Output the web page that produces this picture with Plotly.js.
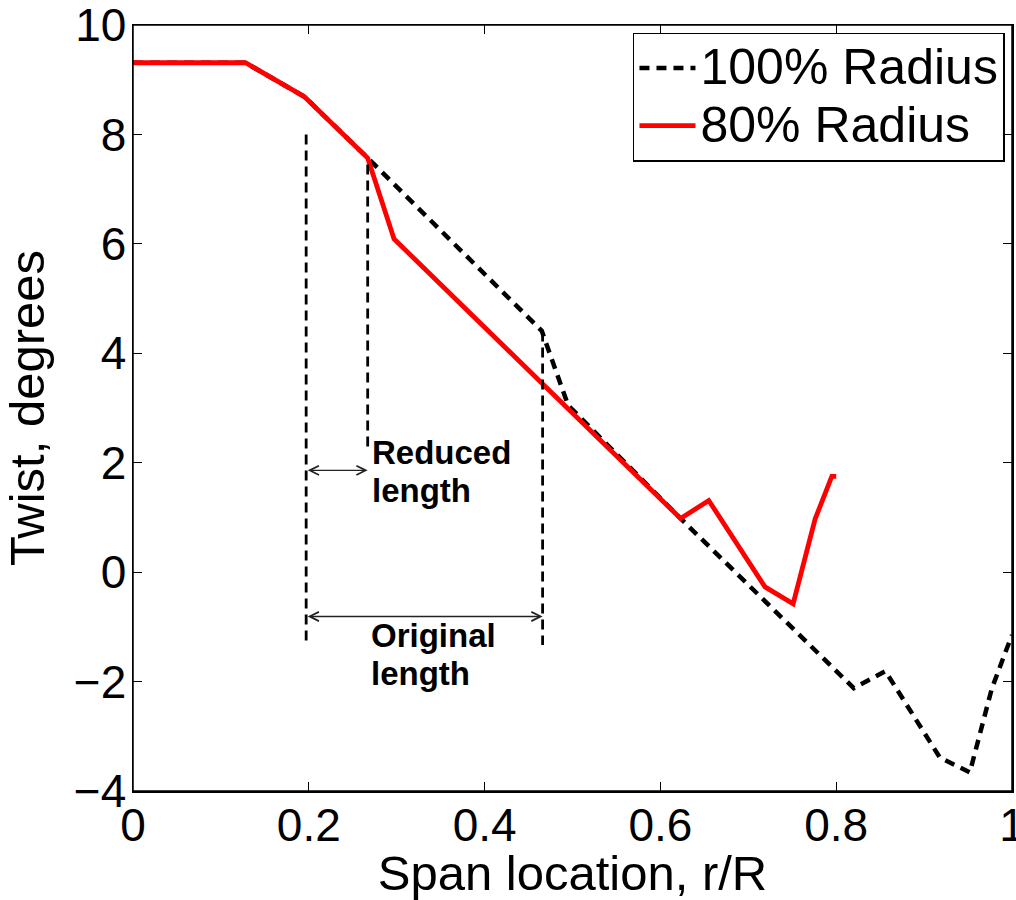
<!DOCTYPE html>
<html>
<head>
<meta charset="utf-8">
<script src="https://cdn.plot.ly/plotly-3.0.1.min.js"></script>
<style>html,body{margin:0;padding:0;background:#fff;}#chart{width:1016px;height:900px;}</style>
</head>
<body>
<div id="chart"></div>
<script>
// 100% radius blade (black dashed)
const span100 = [0, 0.128, 0.195, 0.267, 0.465, 0.495, 0.623, 0.820, 0.856, 0.918, 0.952, 0.964, 0.977, 0.994, 1.0];
const twist100 = [9.31, 9.31, 8.69, 7.57, 4.41, 3.05, 0.98, -2.12, -1.81, -3.39, -3.66, -2.90, -2.13, -1.40, -1.15];
// 80% radius blade (red solid)
const span80 = [0, 0.128, 0.195, 0.267, 0.297, 0.623, 0.655, 0.719, 0.751, 0.776, 0.795, 0.800];
const twist80 = [9.31, 9.31, 8.69, 7.57, 6.09, 0.98, 1.31, -0.27, -0.58, 0.97, 1.75, 1.75];
const seriesNames = ["100% Radius", "80% Radius"];

// guide lines and arrows
const guideX = [0.197, 0.267, 0.466];
const guideTop = [8.0, 7.45, 4.4];
const guideBottom = [-1.25, 2.26, -1.33];
const reducedArrow = {x0: 0.197, x1: 0.267, y: 1.86};
const originalArrow = {x0: 0.197, x1: 0.466, y: -0.81};
const labelTexts = ["Reduced", "length", "Original", "length"];
const labelX = [0.270, 0.270, 0.268, 0.268];
const labelY = [2.18, 1.50, -1.16, -1.86];

const xTicks = [0, 0.2, 0.4, 0.6, 0.8, 1];
const xTickText = ["0", "0.2", "0.4", "0.6", "0.8", "1"];
const yTicks = [-4, -2, 0, 2, 4, 6, 8, 10];

const FONT = "Liberation Sans, Arial, Helvetica, sans-serif";
const legendSpan = t => "<span style='font-size:50px'>" + t + "</span>";

const traces = [
  {x: span100, y: twist100, mode: "lines", name: legendSpan(seriesNames[0]),
   line: {color: "#000000", width: 4.5, dash: "10px,7px"}},
  {x: span80, y: twist80, mode: "lines", name: legendSpan(seriesNames[1]),
   line: {color: "#ff0000", width: 4.8}}
];

const shapes = guideX.map((gx, i) => ({
  type: "line", xref: "x", yref: "y", x0: gx, x1: gx, y0: guideTop[i], y1: guideBottom[i],
  line: {color: "#000000", width: 2.8, dash: "10px,6px"}
}));
shapes.push({type: "rect", xref: "paper", yref: "paper", x0: 0, x1: 1, y0: 0, y1: 1,
  line: {color: "#000000", width: 1.5}, fillcolor: "rgba(0,0,0,0)", layer: "above"});

const annotations = [];
[reducedArrow, originalArrow].forEach(a => {
  annotations.push({
    x: a.x1, y: a.y, ax: a.x0, ay: a.y, xref: "x", yref: "y", axref: "x", ayref: "y",
    text: "", showarrow: true, arrowhead: 5, startarrowhead: 5, arrowside: "end+start",
    arrowsize: 1.3, startarrowsize: 1.3, arrowwidth: 1.4, arrowcolor: "#222222",
    standoff: 0, startstandoff: 0
  });
});
labelTexts.forEach((t, i) => {
  annotations.push({
    x: labelX[i], y: labelY[i], xref: "x", yref: "y", text: "<b>" + t + "</b>",
    showarrow: false, xanchor: "left", yanchor: "middle",
    font: {family: FONT, size: 33, color: "#000000"}
  });
});

const layout = {
  width: 1016, height: 900,
  margin: {l: 133, r: 4, t: 25, b: 109, pad: 0},
  paper_bgcolor: "#ffffff", plot_bgcolor: "#ffffff",
  font: {family: FONT, color: "#000000"},
  showlegend: true,
  legend: {
    x: 0.992, xanchor: "right", y: 0.99, yanchor: "top",
    bgcolor: "#ffffff", bordercolor: "#000000", borderwidth: 1.5,
    font: {family: FONT, size: 42, color: "#000000"},
    itemwidth: 56, tracegroupgap: 0
  },
  xaxis: {
    range: [0, 1], tickvals: xTicks, ticktext: xTickText,
    ticks: "inside", ticklen: 9, tickwidth: 1, tickcolor: "#000000",
    showline: true, linecolor: "#000000", linewidth: 1.5, mirror: "ticks",
    showgrid: false, zeroline: false, ticklabeloverflow: "allow", ticklabelstandoff: -7,
    tickfont: {family: FONT, size: 46, color: "#000000"},
    title: {text: "Span location, r/R", font: {family: FONT, size: 49, color: "#000000"}, standoff: 5}
  },
  yaxis: {
    range: [-4, 10], tickvals: yTicks,
    ticks: "inside", ticklen: 9, tickwidth: 1, tickcolor: "#000000",
    showline: true, linecolor: "#000000", linewidth: 1.5, mirror: "ticks",
    showgrid: false, zeroline: false, ticklabeloverflow: "allow", ticklabelstandoff: -4,
    tickfont: {family: FONT, size: 46, color: "#000000"},
    title: {text: "Twist, degrees", font: {family: FONT, size: 49, color: "#000000"}, standoff: 14}
  },
  shapes: shapes,
  annotations: annotations
};

Plotly.newPlot("chart", traces, layout, {staticPlot: true, displayModeBar: false});
</script>
</body>
</html>
